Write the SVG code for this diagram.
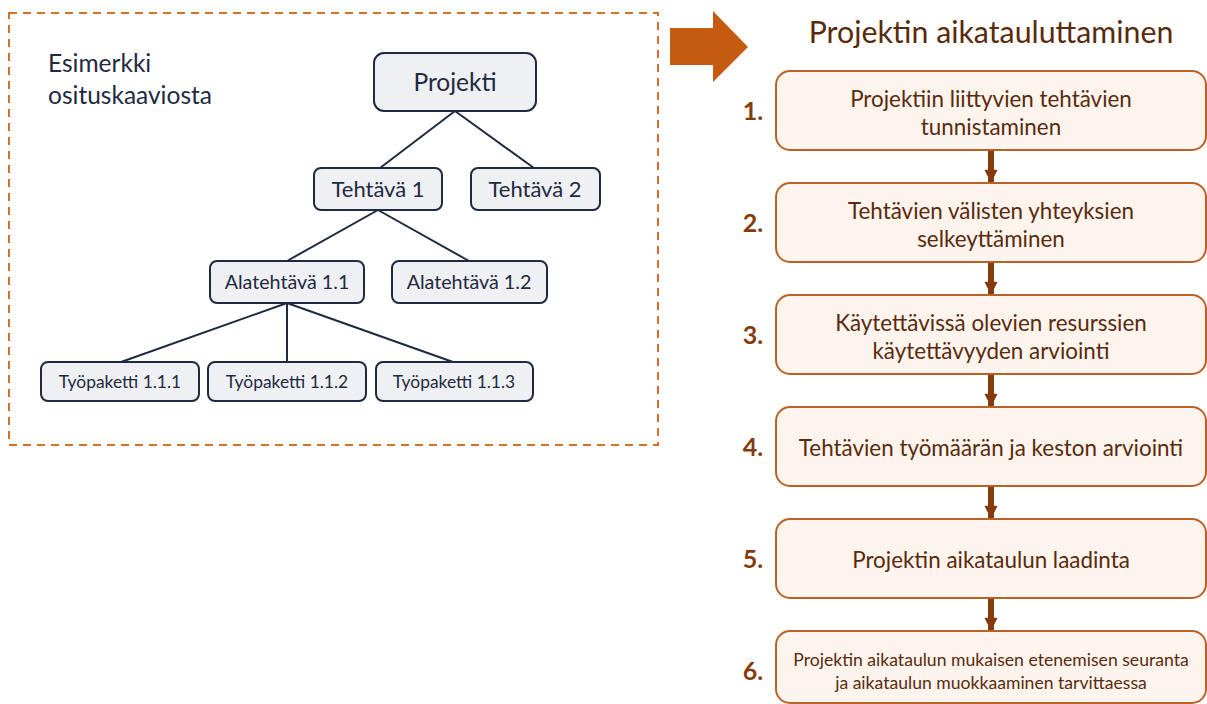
<svg xmlns="http://www.w3.org/2000/svg" width="1207" height="704" viewBox="0 0 1207 704">
<style>
.t{font-family:Lato,"Liberation Sans",sans-serif;}
.tn rect{fill:#EEF0F4;stroke:#1F2A40;stroke-width:2;}
.tn text{font-family:Lato,"Liberation Sans",sans-serif;fill:#1F2A40;text-anchor:middle;}
.st rect{fill:#FDF4EE;stroke:#B8622A;stroke-width:2;}
.st text{font-family:Lato,"Liberation Sans",sans-serif;fill:#5A2A0C;text-anchor:middle;font-size:22.4px;}
.st text.sm{font-size:17.6px;}
.num{font-family:Lato,"Liberation Sans",sans-serif;fill:#843C0C;font-weight:bold;font-size:25px;text-anchor:middle;}
.lk{stroke:#1F2A40;stroke-width:2;fill:none;}
.fa{stroke:#843C0C;stroke-width:6;}
</style>
<defs>
<marker id="ah" viewBox="0 0 10 10" refX="10" refY="5" markerWidth="2.7" markerHeight="2.2" orient="auto" markerUnits="strokeWidth">
<path d="M0,0 L10,5 L0,10 Z" fill="#843C0C"/>
</marker>
</defs>
<rect x="9" y="13" width="649" height="432" fill="none" stroke="#D2702F" stroke-width="2" stroke-dasharray="8,6"/>
<text class="t" x="48" y="72" font-size="24.5" fill="#1F2A40">Esimerkki</text>
<text class="t" x="48" y="104" font-size="24.5" fill="#1F2A40">osituskaaviosta</text>
<g id="connectors">
<line class="lk" x1="455" y1="111" x2="380" y2="168"/>
<line class="lk" x1="455" y1="111" x2="534" y2="168"/>
<line class="lk" x1="378" y1="210" x2="287" y2="261"/>
<line class="lk" x1="378" y1="210" x2="469" y2="261"/>
<line class="lk" x1="287" y1="303" x2="121" y2="362"/>
<line class="lk" x1="287" y1="303" x2="287" y2="362"/>
<line class="lk" x1="287" y1="303" x2="453" y2="362"/>
<line class="fa" x1="991" y1="150" x2="991" y2="183" marker-end="url(#ah)"/>
<line class="fa" x1="991" y1="262" x2="991" y2="295" marker-end="url(#ah)"/>
<line class="fa" x1="991" y1="374" x2="991" y2="407" marker-end="url(#ah)"/>
<line class="fa" x1="991" y1="486" x2="991" y2="519" marker-end="url(#ah)"/>
<line class="fa" x1="991" y1="598" x2="991" y2="631" marker-end="url(#ah)"/>
</g>
<g id="projekti" class="tn"><rect x="374" y="53" width="162" height="58" rx="10"/><text x="455" y="91" font-size="24.5">Projekti</text></g>
<g id="tehtava1" class="tn"><rect x="314" y="168" width="128" height="42" rx="7"/><text x="378" y="197" font-size="22">Tehtävä 1</text></g>
<g id="tehtava2" class="tn"><rect x="471" y="168" width="129" height="42" rx="7"/><text x="535" y="197" font-size="22">Tehtävä 2</text></g>
<g id="alatehtava11" class="tn"><rect x="210" y="261" width="154" height="42" rx="7"/><text x="287" y="289" font-size="19.7">Alatehtävä 1.1</text></g>
<g id="alatehtava12" class="tn"><rect x="392" y="261" width="155" height="42" rx="7"/><text x="469" y="289" font-size="19.7">Alatehtävä 1.2</text></g>
<g id="tp111" class="tn"><rect x="41" y="362" width="158" height="39" rx="7"/><text x="120" y="388" font-size="17.4">Työpaketti 1.1.1</text></g>
<g id="tp112" class="tn"><rect x="208" y="362" width="158" height="39" rx="7"/><text x="287" y="388" font-size="17.4">Työpaketti 1.1.2</text></g>
<g id="tp113" class="tn"><rect x="376" y="362" width="157" height="39" rx="7"/><text x="454" y="388" font-size="17.4">Työpaketti 1.1.3</text></g>
<path id="bigarrow" d="M670,28 L713,28 L713,11 L748,47 L713,82 L713,65 L670,65 Z" fill="#C55A11"/>
<text class="t" x="991" y="43" font-size="30.3" fill="#5A2A0C" text-anchor="middle">Projektin aikatauluttaminen</text>
<g id="step1" class="st"><rect x="776" y="71" width="430" height="79" rx="14"/><text x="991" y="107">Projektiin liittyvien tehtävien</text><text x="991" y="135">tunnistaminen</text></g>
<text class="num" x="753" y="120">1.</text>
<g id="step2" class="st"><rect x="776" y="183" width="430" height="79" rx="14"/><text x="991" y="219">Tehtävien välisten yhteyksien</text><text x="991" y="247">selkeyttäminen</text></g>
<text class="num" x="753" y="232">2.</text>
<g id="step3" class="st"><rect x="776" y="295" width="430" height="79" rx="14"/><text x="991" y="331">Käytettävissä olevien resurssien</text><text x="991" y="359">käytettävyyden arviointi</text></g>
<text class="num" x="753" y="344">3.</text>
<g id="step4" class="st"><rect x="776" y="407" width="430" height="79" rx="14"/><text x="991" y="456">Tehtävien työmäärän ja keston arviointi</text></g>
<text class="num" x="753" y="456">4.</text>
<g id="step5" class="st"><rect x="776" y="519" width="430" height="79" rx="14"/><text x="991" y="568">Projektin aikataulun laadinta</text></g>
<text class="num" x="753" y="568">5.</text>
<g id="step6" class="st"><rect x="776" y="631" width="430" height="72" rx="14"/><text class="sm" x="991" y="666">Projektin aikataulun mukaisen etenemisen seuranta</text><text class="sm" x="991" y="689">ja aikataulun muokkaaminen tarvittaessa</text></g>
<text class="num" x="753" y="680">6.</text>
</svg>
